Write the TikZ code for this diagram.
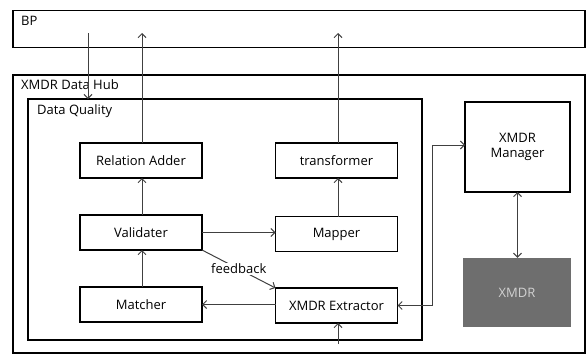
\documentclass[tikz,border=0pt]{standalone}
\usepackage{fontspec}
\setmainfont{Open Sans}
\usetikzlibrary{arrows,arrows.meta,positioning}

\tikzset{
  box/.style={draw, line width=1.6pt, inner sep=0pt, outer sep=0pt},
  part/.style={box, minimum width=122pt, minimum height=35pt},
  link/.style={draw=black!75, line width=1pt, >={Straight Barb[length=4pt,width=8pt]}},
  title/.style={anchor=north west, inner sep=0pt}
}

\begin{document}
\begin{tikzpicture}[x=1pt,y=-1pt,font=\fontsize{13}{15}\selectfont]

\useasboundingbox (0,0) rectangle (587,356);

% containers
\node[box, minimum width=572pt, minimum height=37pt] (bp) at (299,29){};
\node[box, minimum width=572pt, minimum height=278pt] (hub) at (299,214){};
\node[box, minimum width=394pt, minimum height=241pt] (dq) at (225,219.5){};
\node[title] at (21,16){BP};
\node[title] at (21,79){XMDR Data Hub};
\node[title] at (37,104){Data Quality};

% parts
\node[part] (1) at (141,160.5){Relation Adder};
\node[part] (2) at (336.5,160.5){transformer};
\node[part] (3) at (141,232.5){Validater};
\node[part] (4) at (336.5,234){Mapper};
\node[part] (5) at (141,304.5){Matcher};
\node[part] (6) at (336.5,305.5){XMDR Extractor};
\node[box, minimum width=105pt, minimum height=90pt, align=center] (7) at (517.5,147){XMDR\\Manager};
\node[minimum width=108pt, minimum height=69pt, inner sep=0pt, fill=black!57, text=black!18] (8) at (517,292.5){XMDR};

\coordinate (a) at (88,33);
\coordinate (b) at (142,33);
\coordinate (c) at (338,33);
\coordinate (d) at (432,145);
\coordinate (e) at (338,344);

\draw[link,->] (a) -- (a |- dq.north);
\draw[link,->] (1.north -| b) -- (b);
\draw[link,->] (2.north -| c) -- (c);
\draw[link,->] (3.north -| b) -- (1.south -| b);
\draw[link,->] (4.north -| c) -- (2.south -| c);
\draw[link,->] (5.north -| b) -- (3.south -| b);
\draw[link,->] (3.east) -- (3.east -| 4.west);
\draw[link,->] (6.west |- 5) -- (5.east);
\draw[link,->] (3.south east) -- node[fill=white, inner sep=1pt]{feedback} (6.north west);
\draw[link,<->] (6.east) -| (d) -- (d -| 7.west);
\draw[link,<->] (7.south) -- (7.south |- 8.north);
\draw[link,->] (e) -- (e |- 6.south);

\end{tikzpicture}
\end{document}
